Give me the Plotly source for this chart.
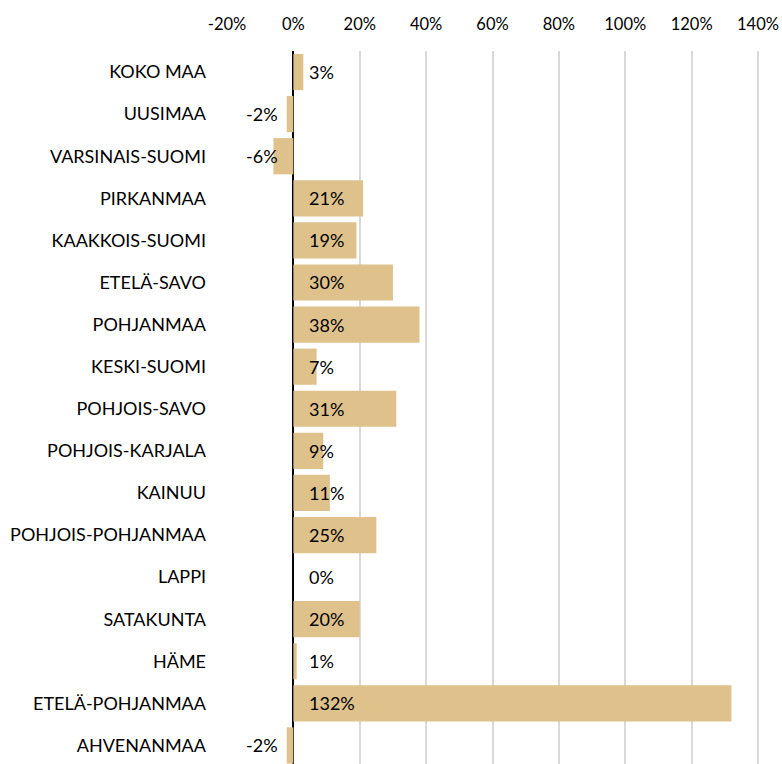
import plotly.graph_objects as go

# Regions and change (%)
regions = ['KOKO MAA', 'UUSIMAA', 'VARSINAIS-SUOMI', 'PIRKANMAA', 'KAAKKOIS-SUOMI',
           'ETELÄ-SAVO', 'POHJANMAA', 'KESKI-SUOMI', 'POHJOIS-SAVO', 'POHJOIS-KARJALA',
           'KAINUU', 'POHJOIS-POHJANMAA', 'LAPPI', 'SATAKUNTA', 'HÄME',
           'ETELÄ-POHJANMAA', 'AHVENANMAA']
change_pct = [3, -2, -6, 21, 19, 30, 38, 7, 31, 9, 11, 25, 0, 20, 1, 132, -2]

tick_vals = [-0.2, 0, 0.2, 0.4, 0.6, 0.8, 1.0, 1.2, 1.4]
tick_text = ['-20%', '0%', '20%', '40%', '60%', '80%', '100%', '120%', '140%']

bar_color = '#DFC18C'
font_family = 'Lato, Open Sans, sans-serif'

values = [v / 100 for v in change_pct]

fig = go.Figure()

fig.add_trace(go.Bar(
    y=regions,
    x=values,
    orientation='h',
    marker=dict(color=bar_color, line=dict(width=0)),
    hoverinfo='skip',
))

# Data labels sit at the base of each bar (right of zero for positives, left for negatives)
for name, v in zip(regions, values):
    fig.add_annotation(
        x=0, y=name,
        text=f"{round(v * 100)}%",
        showarrow=False,
        xanchor='right' if v < 0 else 'left',
        xshift=-13 if v < 0 else 14,
        font=dict(family=font_family, size=18, color='#000000'),
    )

fig.update_layout(
    width=782, height=764,
    margin=dict(l=226, r=20, t=51, b=0),
    plot_bgcolor='white',
    paper_bgcolor='white',
    showlegend=False,
    bargap=0.14,
    font=dict(family=font_family, size=18, color='#000000'),
)

fig.update_xaxes(
    side='top',
    automargin=False,
    range=[-0.203, 1.412],
    tickvals=tick_vals,
    ticktext=tick_text,
    showgrid=True,
    gridcolor='#D9D9D9',
    gridwidth=1.5,
    zeroline=True,
    zerolinecolor='#000000',
    zerolinewidth=1.5,
    showline=False,
    ticks='',
    ticklabelstandoff=17,
    tickfont=dict(family=font_family, size=16.5, color='#000000'),
)

fig.update_yaxes(
    type='category',
    automargin=False,
    range=[16.44, -0.5],
    showgrid=False,
    zeroline=False,
    showline=False,
    ticks='',
    ticklabelstandoff=19,
    tickfont=dict(family=font_family, size=18, color='#000000'),
)

# drop the default body margin so the figure fills the window exactly
fig.write_html("out.html",
               config={'displayModeBar': False},
               post_script="document.body.style.margin='0';document.body.style.overflow='hidden';")
